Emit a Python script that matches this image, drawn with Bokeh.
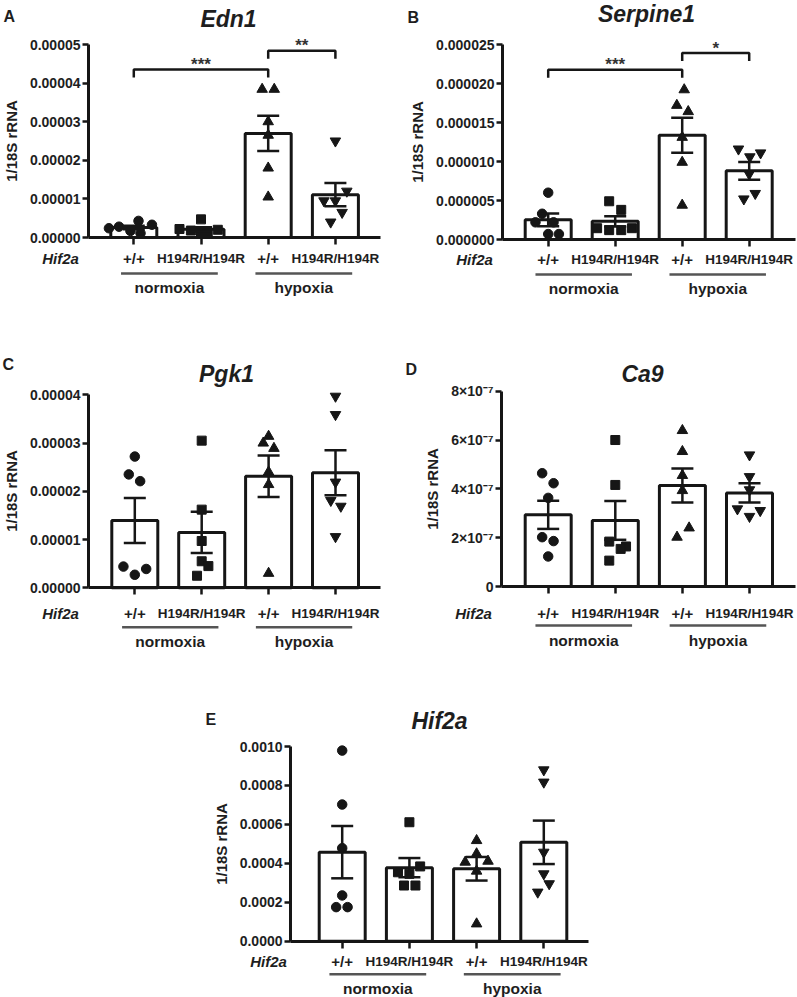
import numpy as np
from bokeh.plotting import figure
from bokeh.models import (LinearAxis, FixedTicker, CustomJSTickFormatter, Range1d,
                          Whisker, TeeHead, ColumnDataSource)
from bokeh.layouts import column, row
from bokeh.core.properties import value
from bokeh.embed import file_html
from bokeh.resources import INLINE

FONT = "Liberation Sans"
TXT = "#1e1e1e"
INK = "#161616"

# ---------------- data ----------------
genotypes = ["+/+", "H194R/H194R", "+/+", "H194R/H194R"]
conditions = ["normoxia", "hypoxia"]
markers = ["circle", "square", "triangle", "inverted_triangle"]

edn1 = [
    [2.4e-6, 2.8e-6, 1.7e-6, 4.3e-6, 1.1e-6, 3.3e-6],
    [2.2e-6, 1.8e-6, 4.7e-6, 1.1e-6, 1.0e-6, 2.0e-6],
    [3.84e-5, 3.84e-5, 3.0e-5, 2.65e-5, 1.8e-5, 1.05e-5],
    [2.5e-5, 1.2e-5, 0.95e-5, 0.95e-5, 0.65e-5, 0.4e-5],
]
edn1_jitter = [[-0.37, -0.22, -0.05, 0.07, 0.1, 0.27], [-0.32, -0.15, 0, 0.1, 0, 0.25],
               [-0.09, 0.09, 0, 0, 0, 0], [0, 0.17, -0.17, 0, 0.1, -0.07]]
edn1_ticks = [0, 1e-5, 2e-5, 3e-5, 4e-5, 5e-5]
edn1_tick_labels = ["0.00000", "0.00001", "0.00002", "0.00003", "0.00004", "0.00005"]
edn1_brackets = [(1, 3, 4.35e-5, "***"), (3, 4, 4.84e-5, "**")]

serpine1 = [
    [6.0e-6, 3.3e-6, 2.2e-6, 2.2e-6, 0.7e-6, 0.7e-6],
    [4.9e-6, 3.8e-6, 1.45e-6, 1.2e-6, 1.2e-6, 1.45e-6],
    [1.92e-5, 1.72e-5, 1.64e-5, 1.31e-5, 0.99e-5, 0.44e-5],
    [1.16e-5, 1.11e-5, 1.06e-5, 0.84e-5, 0.59e-5, 0.52e-5],
]
serpine1_jitter = [[0, -0.09, -0.19, 0.08, 0, 0.16], [-0.09, 0.09, -0.27, -0.09, 0.09, 0.25],
                   [0.03, -0.08, 0.09, 0, 0, 0], [-0.16, 0.17, 0.01, 0, 0.09, -0.08]]
serpine1_ticks = [0, 5e-6, 1e-5, 1.5e-5, 2e-5, 2.5e-5]
serpine1_tick_labels = ["0.000000", "0.000005", "0.000010", "0.000015", "0.000020", "0.000025"]
serpine1_brackets = [(1, 3, 2.176e-5, "***"), (3, 4, 2.39e-5, "*")]

pgk1 = [
    [2.72e-5, 2.35e-5, 2.21e-5, 0.44e-5, 0.27e-5, 0.39e-5],
    [3.05e-5, 1.62e-5, 0.97e-5, 0.55e-5, 0.45e-5, 0.25e-5],
    [3.14e-5, 3.0e-5, 2.89e-5, 2.4e-5, 2.14e-5, 0.30e-5],
    [3.97e-5, 3.59e-5, 2.19e-5, 1.81e-5, 1.69e-5, 1.06e-5],
]
pgk1_jitter = [[0, -0.09, 0.08, -0.17, 0, 0.17], [0, 0, 0, 0, 0.1, -0.07],
               [0, -0.08, 0.08, 0, 0, 0], [0, 0, 0, -0.07, 0.08, 0]]
pgk1_ticks = [0, 1e-5, 2e-5, 3e-5, 4e-5]
pgk1_tick_labels = ["0.00000", "0.00001", "0.00002", "0.00003", "0.00004"]

ca9 = [
    [4.64e-7, 4.23e-7, 3.63e-7, 2.02e-7, 1.86e-7, 1.23e-7],
    [6.0e-7, 4.16e-7, 1.84e-7, 1.64e-7, 1.54e-7, 1.06e-7],
    [6.39e-7, 5.53e-7, 4.55e-7, 3.93e-7, 2.4e-7, 2.02e-7],
    [5.39e-7, 4.5e-7, 3.96e-7, 3.18e-7, 3.11e-7, 2.87e-7],
]
ca9_jitter = [[-0.09, 0.08, 0, -0.09, 0.08, 0], [0, 0, -0.09, 0.16, 0.08, -0.09],
              [0, 0, 0, 0, 0.1, -0.08], [0, 0, 0, -0.18, 0.16, 0]]
ca9_ticks = [0, 2e-7, 4e-7, 6e-7, 8e-7]
ca9_tick_labels = ["0", "2×10⁻⁷", "4×10⁻⁷", "6×10⁻⁷", "8×10⁻⁷"]

hif2a = [
    [9.79e-4, 7.02e-4, 4.78e-4, 2.35e-4, 1.75e-4, 1.75e-4],
    [6.11e-4, 3.84e-4, 3.54e-4, 3.46e-4, 2.86e-4, 2.86e-4],
    [5.17e-4, 4.49e-4, 4.06e-4, 4.11e-4, 3.6e-4, 0.89e-4],
    [8.8e-4, 8.17e-4, 4.57e-4, 3.46e-4, 2.95e-4, 2.52e-4],
]
hif2a_jitter = [[0, 0, 0, 0, -0.09, 0.08], [0, 0.16, -0.17, 0, -0.08, 0.09],
                [0, 0, -0.17, 0.17, 0, 0], [0, 0, 0, 0, 0.08, -0.09]]
hif2a_ticks = [0, 2e-4, 4e-4, 6e-4, 8e-4, 1e-3]
hif2a_tick_labels = ["0.0000", "0.0002", "0.0004", "0.0006", "0.0008", "0.0010"]


# ---------------- panel builder ----------------
def make_panel(g, letter, title, vals, jitter, ticks, tick_labels, brackets=None):
    fx, fy, fw, fh = g["fig"]
    step, b0 = g["step"], g["bar0"]
    top_val = ticks[-1]
    k = top_val / (g["zero"] - g["top"])

    def X(px):
        return 1 + (px - b0) / step

    def Y(py):
        return (g["zero"] - py) * k

    p = figure(width=fw, height=fh, x_range=Range1d(X(fx), X(fx + fw)),
               y_range=Range1d(Y(fy + fh), Y(fy)), x_axis_type=None, y_axis_type=None,
               toolbar_location=None, output_backend="svg", min_border=0,
               outline_line_color=None, background_fill_color="white",
               border_fill_color="white")
    p.xgrid.visible = False
    p.ygrid.visible = False

    xs = [1, 2, 3, 4]
    means = [float(np.mean(v)) for v in vals]
    sems = [float(np.std(v, ddof=1) / np.sqrt(len(v))) for v in vals]

    p.vbar(x=xs, top=means, bottom=0, width=46 / step, fill_color="white",
           line_color=INK, line_width=3)
    for i, v in enumerate(vals):
        px_ = [xs[i] + j for j in jitter[i]]
        size = {"circle": 9.5, "square": 9, "triangle": 10.5, "inverted_triangle": 10.5}[markers[i]]
        p.scatter(x=px_, y=v, marker=markers[i], size=size, fill_color=INK, line_color=INK)

    src = ColumnDataSource(dict(x=xs, upper=[m + s for m, s in zip(means, sems)],
                                lower=[m - s for m, s in zip(means, sems)]))
    w = Whisker(source=src, base="x", upper="upper", lower="lower", line_width=2.5,
                line_color=INK, level="annotation",
                upper_head=TeeHead(size=22, line_width=2.5, line_color=INK),
                lower_head=TeeHead(size=22, line_width=2.5, line_color=INK))
    p.add_layout(w)

    yax = LinearAxis(fixed_location=X(g["axis"]), bounds=(0, top_val),
                     ticker=FixedTicker(ticks=ticks, minor_ticks=[]),
                     formatter=CustomJSTickFormatter(args=dict(labels=tick_labels),
                                                     code="return labels[index];"),
                     axis_label="1/18S rRNA", axis_line_width=3, axis_line_color=INK,
                     major_tick_line_width=2.5, major_tick_line_color=INK,
                     major_tick_out=6, major_tick_in=0, minor_tick_out=0, minor_tick_in=0,
                     major_label_text_font=FONT, major_label_text_font_style="bold",
                     major_label_text_font_size="14px", major_label_text_color=TXT,
                     major_label_standoff=2,
                     axis_label_text_font=FONT, axis_label_text_font_style="bold",
                     axis_label_text_font_size="15px", axis_label_text_color=TXT,
                     axis_label_standoff=g.get("lab_standoff", 7))
    p.add_layout(yax, "left")

    xax = LinearAxis(fixed_location=0, bounds=(X(g["axis"]), X(g["axis_end"])),
                     ticker=FixedTicker(ticks=xs, minor_ticks=[]),
                     formatter=CustomJSTickFormatter(code="return '';"),
                     axis_line_width=3, axis_line_color=INK,
                     major_tick_line_width=2.5, major_tick_line_color=INK,
                     major_tick_out=7, major_tick_in=0, minor_tick_out=0, minor_tick_in=0,
                     major_label_text_font_size="1px")
    p.add_layout(xax, "below")

    def txt(x, y, s, size, style="bold", align="center", color=TXT):
        p.text(x=[x], y=[y], text=[s], text_font=value(FONT), text_font_style=style,
               text_font_size=size, text_align=align, text_baseline="middle",
               text_color=color)

    # significance brackets
    if brackets:
        for (x1, x2, yl, lab) in brackets:
            drop = 8 * k
            p.line(x=[x1, x1, x2, x2], y=[yl - drop, yl, yl, yl - drop],
                   line_color=INK, line_width=2.5)
            txt((x1 + x2) / 2, yl + 5 * k, lab, "17px", color="#333333")

    # panel letter and title
    txt(X(g["letter"][0]), Y(g["letter"][1]), letter, "16px", align="left")
    txt(X(g["title"][0]), Y(g["title"][1]), title, "23px", style="bold italic")

    # category labels below axis
    o_geno, o_line, o_grp = g["offsets"]
    yb = Y(g["zero"] + o_geno)
    txt(X(g["axis"] - g.get("hif_dx", 28)), yb, "Hif2a", "15px", style="bold italic")
    for i, gname in enumerate(genotypes):
        txt(xs[i], yb, gname, "15px" if gname == "+/+" else "13.5px")
    yl = Y(g["zero"] + o_line)
    yg = Y(g["zero"] + o_grp)
    for j, cname in enumerate(conditions):
        a, b = xs[2 * j] - 0.19, xs[2 * j + 1] + 0.25
        p.line(x=[a, b], y=[yl, yl], line_color="#555555", line_width=2.5)
        txt((a + b) / 2, yg, cname, "15.5px")
    return p


geo_A = dict(fig=(0, 0, 395, 300), axis=88, zero=237, top=44, bar0=133.3, step=67.2,
             axis_end=380, letter=(3, 16), title=(228, 18.5), offsets=(21, 36, 50))
geo_B = dict(fig=(395, 0, 402, 300), axis=502, zero=239, top=44, bar0=547.7, step=67.0,
             axis_end=795, letter=(407, 16.7), title=(646, 13), offsets=(20, 35, 49))
geo_C = dict(fig=(0, 300, 395, 350), axis=88, zero=587.3, top=394.3, bar0=134.3, step=66.9,
             axis_end=380, letter=(2, 363.5), title=(226, 373), offsets=(26, 39.5, 54))
geo_D = dict(fig=(395, 300, 402, 350), axis=501, zero=586, top=390.7, bar0=547.7, step=67.1,
             axis_end=795, letter=(405, 369), title=(642, 373.5), offsets=(27, 39, 54))
geo_E = dict(fig=(0, 650, 797, 347), axis=290, zero=940.7, top=746, bar0=341.7, step=67.2,
             axis_end=588, letter=(205, 719), title=(439, 720), offsets=(20, 33, 47),
             hif_dx=22)

pA = make_panel(geo_A, "A", "Edn1", edn1, edn1_jitter, edn1_ticks, edn1_tick_labels, edn1_brackets)
pB = make_panel(geo_B, "B", "Serpine1", serpine1, serpine1_jitter, serpine1_ticks,
                serpine1_tick_labels, serpine1_brackets)
pC = make_panel(geo_C, "C", "Pgk1", pgk1, pgk1_jitter, pgk1_ticks, pgk1_tick_labels)
pD = make_panel(geo_D, "D", "Ca9", ca9, ca9_jitter, ca9_ticks, ca9_tick_labels)
pE = make_panel(geo_E, "E", "Hif2a", hif2a, hif2a_jitter, hif2a_ticks, hif2a_tick_labels)

layout = column(row(pA, pB, spacing=0), row(pC, pD, spacing=0), pE, spacing=0)
open("out.html", "w").write(file_html(layout, INLINE))
